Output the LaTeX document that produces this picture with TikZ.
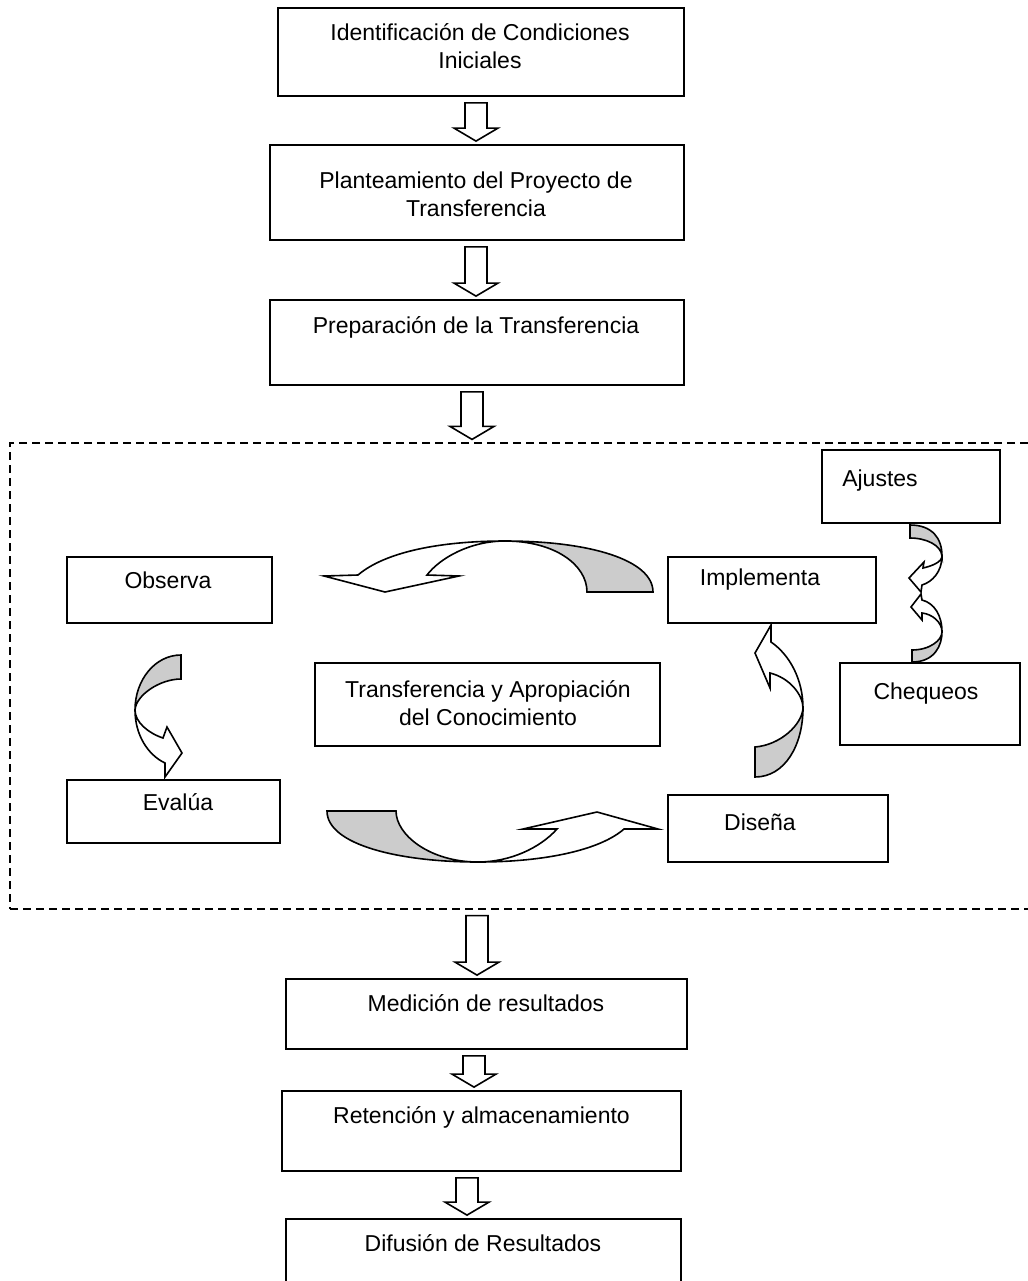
\documentclass[tikz,border=0pt]{standalone}
\usepackage{fontspec}
\setmainfont{Liberation Sans}
\usetikzlibrary{calc}

\definecolor{ribbongray}{HTML}{CCCCCC}

\tikzset{
  box/.style={draw, line width=0.9pt, inner sep=0pt},
  boxtext/.style={align=center, inner sep=0pt, font=\fontsize{11.5}{14}\selectfont},
  dashframe/.style={draw, dash pattern=on 4pt off 2.5pt, line width=0.6pt, inner sep=0pt},
  blockarr/.style={draw, fill=white, line width=0.8pt},
  ribbonback/.style={draw, fill=ribbongray, line width=0.8pt},
  ribbonfront/.style={draw, fill=white, line width=0.8pt},
}

% hollow down arrow from one box to the next, #3 = x of the shaft
\newcommand{\blockarrow}[3]{%
  \draw[blockarr] let \p1=(#1.south), \p2=(#2.north), \p3=(#3,0) in
    (\x3-5.5pt,\y1-3pt) -- (\x3+5.5pt,\y1-3pt) -- (\x3+5.5pt,\y2+8pt)
    -- (\x3+11pt,\y2+8pt) -- (\x3,\y2+1.5pt) -- (\x3-11pt,\y2+8pt)
    -- (\x3-5.5pt,\y2+8pt) -- cycle;}

\begin{document}
\begin{tikzpicture}[x=0.5pt, y=-0.5pt, line join=miter]
    \useasboundingbox (0,0) rectangle (1028,1281);

    % Upper chain
    \node[box, minimum width=203pt, minimum height=44pt] (ident) at (481,52) {};
    \node[box, minimum width=207pt, minimum height=47.5pt] (plan) at (477,192.5) {};
    \node[box, minimum width=207pt, minimum height=42.5pt] (prep) at (477,342.5) {};

    \node[boxtext] (identtxt) at (480,46) {Identificación de Condiciones\\Iniciales};
    \node[boxtext] (plantxt) at (476,194) {Planteamiento del Proyecto de\\Transferencia};
    \node[boxtext] (preptxt) at (476,327) {Preparación de la Transferencia};

    % Dashed frame of the cycle
    \node[dashframe, minimum width=515pt, minimum height=233pt] (cycle) at (525,676) {};

    % Cycle boxes
    \node[box, minimum width=89pt, minimum height=36.5pt] (ajustes) at (911,486.5) {};
    \node[box, minimum width=102.5pt, minimum height=33pt] (observa) at (169.5,590) {};
    \node[box, minimum width=104pt, minimum height=33pt] (implementa) at (772,590) {};
    \node[box, minimum width=172.5pt, minimum height=41.5pt] (transf) at (487.5,704.5) {};
    \node[box, minimum width=90pt, minimum height=41pt] (chequeos) at (930,704) {};
    \node[box, minimum width=106.5pt, minimum height=31.5pt] (evalua) at (173.5,811.5) {};
    \node[box, minimum width=110pt, minimum height=33.5pt] (disena) at (778,828.5) {};

    \node[boxtext] (ajustestxt) at (880,481) {Ajustes};
    \node[boxtext] (observatxt) at (168,580) {Observa};
    \node[boxtext] (implementatxt) at (760,580) {Implementa};
    \node[boxtext] (transftxt) at (488,703.5) {Transferencia y Apropiación\\del Conocimiento};
    \node[boxtext] (chequeostxt) at (926,694) {Chequeos};
    \node[boxtext] (evaluatxt) at (178,802) {Evalúa};
    \node[boxtext] (disenatxt) at (760,822) {Diseña};

    % Lower chain
    \node[box, minimum width=200.5pt, minimum height=35pt] (medicion) at (486.5,1014) {};
    \node[box, minimum width=199.5pt, minimum height=40pt] (retencion) at (481.5,1131) {};
    \node[box, minimum width=197.5pt, minimum height=40.5pt] (difusion) at (483.5,1259.5) {};

    \node[boxtext] (mediciontxt) at (486,1003) {Medición de resultados};
    \node[boxtext] (retenciontxt) at (481.5,1117) {Retención y almacenamiento};
    \node[boxtext] (difusiontxt) at (483,1243) {Difusión de Resultados};

    % Hollow arrows between the stages
    \blockarrow{ident}{plan}{476}
    \blockarrow{plan}{prep}{476}
    \blockarrow{prep}{cycle}{472}
    \blockarrow{cycle}{medicion}{477}
    \blockarrow{medicion}{retencion}{474}
    \blockarrow{retencion}{difusion}{467}

    % Curved arrow Implementa -> Observa
    \draw[ribbonback] (587,592) -- (653,592) .. controls (653,560) and (590,541) .. (505,541)
        .. controls (555,541) and (587,565) .. (587,592) -- cycle;
    \draw[ribbonfront] (358,575) -- (324,576) -- (385,592) -- (459,576) -- (427,575)
        .. controls (440,558) and (470,541) .. (505,541)
        .. controls (440,541) and (385,552) .. (358,575) -- cycle;

    % Curved arrow Evalua -> Disena
    \draw[ribbonback] (327,811) -- (396,811) .. controls (396,835) and (430,862) .. (478,862)
        .. controls (400,862) and (327,845) .. (327,811) -- cycle;
    \draw[ribbonfront] (624,829) -- (658,829) -- (597,812) -- (523,829) -- (557,829)
        .. controls (540,848) and (510,862) .. (478,862)
        .. controls (545,862) and (600,850) .. (624,829) -- cycle;

    % Curved arrow Observa -> Evalua
    \draw[ribbonback] (181,655) -- (181,679) .. controls (160,679) and (136,695) .. (135,710)
        .. controls (135,680) and (155,655) .. (181,655) -- cycle;
    \draw[ribbonfront] (163,738) -- (167,727) -- (182,753) -- (165,777) -- (165,763)
        .. controls (148,755) and (135,735) .. (135,710)
        .. controls (135,722) and (148,733) .. (163,738) -- cycle;

    % Curved arrow Disena -> Implementa
    \draw[ribbonback] (755,777) -- (755,747) .. controls (780,745) and (802,725) .. (803,708)
        .. controls (803,745) and (785,777) .. (755,777) -- cycle;
    \draw[ribbonfront] (771,642) -- (771,625) -- (755,653) -- (770,688) -- (770,673)
        .. controls (790,678) and (803,695) .. (803,708)
        .. controls (803,680) and (790,655) .. (771,642) -- cycle;

    % Small curved arrow below Ajustes
    \draw[ribbonback] (910,525) -- (910,538) .. controls (926,538) and (941,545) .. (942,556)
        .. controls (942,538) and (932,525) .. (910,525) -- cycle;
    \draw[ribbonfront] (923,568) -- (924,562) -- (909,578) -- (921,592) -- (922,585)
        .. controls (932,582) and (942,572) .. (942,556)
        .. controls (942,562) and (932,566) .. (923,568) -- cycle;

    % Small curved arrow above Chequeos
    \draw[ribbonback] (912,662) -- (912,650) .. controls (930,650) and (942,640) .. (942,632)
        .. controls (942,645) and (935,662) .. (912,662) -- cycle;
    \draw[ribbonfront] (922,600) -- (921,594) -- (911,607) -- (922,620) -- (922,613)
        .. controls (932,614) and (942,622) .. (942,632)
        .. controls (942,615) and (934,603) .. (922,600) -- cycle;

\end{tikzpicture}
\end{document}
